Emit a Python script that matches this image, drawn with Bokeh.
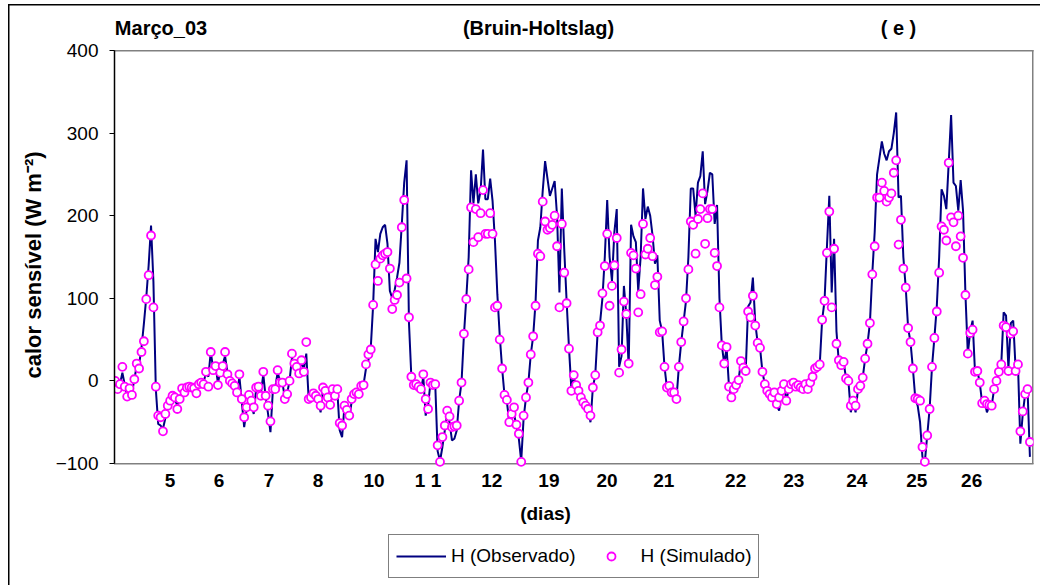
from bokeh.plotting import figure
from bokeh.models import (Range1d, FixedTicker, Label, LabelSet, Legend,
                          LegendItem, Title, ColumnDataSource)
from bokeh.core.properties import value
from bokeh.embed import file_html
from bokeh.resources import INLINE

# Hourly sensible heat flux, March 2003 (hour index along the record)
hora = list(range(384))

h_obs = [
    0, -8, -4, 10, -5, -18, -10, -15, 2, 18, 20, 40,
    69, 101, 140, 188, 120, -10, -52, -54, -58, -45, -32, -26,
    -20, -22, -30, -20, -12, -14, -8, -8, -6, -8, -12, -4,
    0, -2, 10, 5, 35, 15, 20, -3, 12, 20, 30, 10,
    0, -5, -8, -15, 5, -25, -56, -35, -18, -28, -40, -10,
    -8, -15, 8, -20, -40, -62, -12, -8, 10, 0, -2, -20,
    -15, 0, 28, 20, 18, 12, 22, 15, 33, -22, -22, -18,
    -20, -25, -38, -10, -12, -22, -32, -10, -18, -12, -60, -68,
    -30, -38, -45, -25, -15, -14, -12, -6, -4, 15, 25, 40,
    92, 172, 156, 178, 186, 189, 166, 109, 100, 110, 125, 143,
    190, 240, 267, 70, 5, -5, -6, -8, -12, 5, -42, -30,
    -2, -5, -4, -85, -97, -80, -60, -40, -50, -72, -70, -60,
    -24, -2, 55, 100, 150, 255, 215, 250, 215, 230, 280, 220,
    220, 245, 218, 170, 105, 55, 15, -17, -25, -50, -45, -40,
    -55, -70, -97, -45, -20, -2, 32, 54, 95, 170, 186, 230,
    266, 245, 224, 233, 242, 200, 107, 233, 160, 97, 40, -10,
    5, -8, -12, -20, -26, -30, -34, -50, -8, 7, 59, 70,
    100, 150, 219, 150, 121, 180, 208, 17, 30, 115, 80, 17,
    189, 175, 168, 109, 150, 233, 196, 211, 200, 176, 142, 152,
    73, 60, 17, -8, -6, -14, -14, -22, 17, 47, 72, 97,
    150, 233, 233, 200, 240, 248, 278, 214, 230, 252, 250, 190,
    213, 100, 43, 21, 40, -7, -20, -10, -5, 1, 24, 16,
    12, 90, 95, 125, 70, 46, 40, 11, -4, -12, -16, -20,
    -14, -30, -36, -12, -4, -24, -10, -4, -2, -7, -5, -8,
    -10, -4, -10, -2, 5, 15, 17, 20, 74, 97, 162, 224,
    107, 172, 60, 22, 19, 23, 3, 0, -38, -24, -38, -10,
    -6, 4, 27, 45, 70, 130, 180, 250, 270, 290, 275, 267,
    278, 281, 300, 325, 222, 224, 150, 113, 64, 47, 15, -21,
    -30, -50, -92, -98, -66, -34, 17, 52, 90, 150, 232, 224,
    208, 264, 322, 240, 236, 206, 243, 206, 105, 33, 60, 73,
    11, 12, -2, -27, -24, -38, -30, -30, -10, 0, 11, 20,
    83, 79, 15, 70, 73, 15, 20, -76, -40, -16, -10, -92,
]

h_sim = [
    0, -10, -4, 17, -7, -19, -9, -17, 2, 21, 15, 35,
    48, 99, 128, 176, 89, -7, -42, -44, -61, -40, -30, -24,
    -18, -20, -34, -22, -9, -14, -8, -7, -8, -9, -15, -4,
    -2, -4, 11, -7, 35, 13, 18, -5, 10, 18, 35, 8,
    0, -3, -6, -14, 8, -22, -44, -32, -17, -24, -32, -8,
    -7, -18, 11, -18, -30, -49, -10, -10, 13, -2, -2, -22,
    -16, 0, 33, 21, 17, 9, 25, 11, 47, -22, -20, -15,
    -18, -22, -30, -8, -12, -20, -29, -10, -18, -10, -51, -54,
    -30, -35, -42, -22, -16, -14, -16, -6, -5, 20, 32, 38,
    92, 141, 121, 148, 152, 154, 156, 136, 87, 98, 104, 119,
    186, 219, 124, 77, 5, -5, -4, -7, -10, 8, -22, -34,
    -2, -5, -4, -78, -98, -68, -54, -36, -43, -56, -55, -54,
    -24, -2, 57, 99, 135, 210, 168, 208, 174, 203, 231, 178,
    178, 203, 178, 89, 91, 50, 15, -17, -23, -50, -40, -32,
    -53, -64, -98, -42, -20, -2, 32, 54, 91, 154, 151, 217,
    193, 183, 185, 189, 200, 163, 89, 190, 131, 94, 39, -12,
    7, -5, -12, -20, -26, -30, -34, -42, -8, 7, 59, 67,
    106, 139, 178, 91, 115, 140, 173, 10, 38, 96, 81, 21,
    155, 152, 136, 83, 105, 190, 153, 160, 173, 151, 116, 126,
    59, 60, 17, -8, -6, -14, -14, -22, 17, 47, 72, 100,
    135, 193, 189, 154, 196, 208, 227, 166, 197, 208, 208, 155,
    139, 89, 43, 21, 41, -7, -20, -10, -5, 1, 24, 16,
    12, 84, 77, 103, 67, 46, 40, 11, -4, -12, -16, -20,
    -14, -28, -20, -12, -4, -24, -10, -4, -2, -7, -5, -8,
    -10, -4, -10, -2, 5, 15, 17, 20, 74, 97, 155, 205,
    89, 160, 45, 25, 19, 23, 3, 0, -30, -24, -30, -10,
    -6, 4, 27, 45, 70, 129, 163, 222, 222, 240, 230, 217,
    222, 227, 252, 267, 165, 195, 136, 113, 64, 47, 15, -21,
    -22, -24, -80, -98, -66, -34, 17, 52, 84, 131, 187, 183,
    170, 264, 198, 192, 163, 200, 175, 149, 104, 33, 58, 62,
    11, 12, -2, -27, -24, -28, -29, -30, -10, 0, 11, 20,
    67, 65, 12, 57, 60, 12, 20, -61, -37, -16, -10, -74,
]

# day labels printed under the hour axis
dias_hora = [23.0, 43.5, 64.4, 84.9, 108.4, 131.0, 157.7, 181.6, 205.9,
             229.7, 259.8, 284.1, 310.5, 335.6, 358.6]
dias_txt = ["5", "6", "7", "8", "10", "1 1", "12", "19", "20", "21", "22",
            "23", "24", "25", "26"]

y_ticks = [-100, 0, 100, 200, 300, 400]
y_min, y_max = -100, 400

cabecalhos = ["Março_03", "(Bruin-Holtslag)", "( e )"]

FONT = "Liberation Sans"
NAVY = "#000080"
MAGENTA = "#FF00FF"
GRAY = "#808080"

W, H = 1040, 585
BOX_L, BOX_R, BOX_T, BOX_B = 114, 1033, 50, 463   # value box, in pixels
PX = (BOX_B - BOX_T) / (y_max - y_min)            # pixels per W m-2

# Rules painted as the page background behind the transparent canvas:
# black chart border (top/left) and the grey edges of the value box.
fundo = ", ".join([
    "linear-gradient(#000, #000) 8px 4px / 1040px 1.5px no-repeat",
    "linear-gradient(#000, #000) 8px 4px / 1.5px 600px no-repeat",
    f"linear-gradient({GRAY}, {GRAY}) {BOX_L}px {BOX_T - 0.5}px / "
    f"{BOX_R - BOX_L + 0.5}px 1.5px no-repeat",
    f"linear-gradient({GRAY}, {GRAY}) {BOX_L}px {BOX_B - 0.5}px / "
    f"{BOX_R - BOX_L + 0.5}px 1.5px no-repeat",
    f"linear-gradient({GRAY}, {GRAY}) {BOX_R - 1}px {BOX_T - 0.5}px / "
    f"1.5px {BOX_B - BOX_T + 1}px no-repeat",
    "#fff",
])

# The frame spans the full canvas height so headings, day labels and legend
# all sit inside it; the value axis itself is bounded to -100..400.
p = figure(width=W, height=H, output_backend="svg", toolbar_location=None,
           x_range=Range1d(-0.3, 384.5),
           y_range=Range1d(y_min - (H - BOX_B) / PX, y_max + BOX_T / PX),
           min_border_left=BOX_L, min_border_right=W - BOX_R,
           min_border_top=0, min_border_bottom=0,
           styles={"background": fundo})
p.background_fill_alpha = 0
p.border_fill_alpha = 0
p.outline_line_color = None
p.xgrid.visible = False
p.ygrid.visible = False
p.xaxis.visible = False

# y axis
ya = p.yaxis[0]
ya.ticker = FixedTicker(ticks=y_ticks)
ya.bounds = (y_min, y_max)
ya.axis_line_color = "black"
ya.axis_line_width = 1.5
ya.major_tick_line_color = "black"
ya.major_tick_out = 5
ya.major_tick_in = 0
ya.minor_tick_line_color = None
ya.major_label_text_font = FONT
ya.major_label_text_font_size = "19px"
ya.major_label_text_color = "black"
ya.major_label_standoff = 11

# y axis title, set along the value range
p.add_layout(Title(text="calor sensível (W m⁻²)", align="left",
                   offset=H - 378, standoff=14, text_font=FONT,
                   text_font_size="22px", text_font_style="bold",
                   text_color="black"), "left")

r_obs = p.line(hora, h_obs, line_color=NAVY, line_width=2)
r_sim = p.scatter(hora, h_sim, marker="circle", size=8, line_color=MAGENTA,
                  line_width=1.8, fill_color="white")

# day labels under the value box (y offsets in pixels from the canvas bottom)
p.add_layout(LabelSet(x="x", y=H - 480, text="text", y_units="screen",
                      source=ColumnDataSource(dict(x=dias_hora, text=dias_txt)),
                      text_font=value(FONT), text_font_size=value("19px"),
                      text_font_style="bold", text_align="center",
                      text_baseline="middle", text_color="black"))
p.add_layout(Label(x=545 - BOX_L, y=H - 513, x_units="screen", y_units="screen",
                   text="(dias)", text_font=FONT, text_font_size="19px",
                   text_font_style="bold", text_align="center",
                   text_baseline="middle", text_color="black"))

# headings
for txt, xc in zip(cabecalhos, [160.5, 538, 898]):
    p.add_layout(Label(x=xc - BOX_L, y=H - 27, x_units="screen",
                       y_units="screen", text=txt, text_font=FONT,
                       text_font_size="20px", text_font_style="bold",
                       text_align="center", text_baseline="middle",
                       text_color="black"))

legend = Legend(items=[LegendItem(label="H (Observado)", renderers=[r_obs]),
                       LegendItem(label="H (Simulado)", renderers=[r_sim])],
                location=(388 - BOX_L, 7), orientation="horizontal",
                border_line_color="black", border_line_width=1,
                label_text_font=FONT, label_text_font_size="19px",
                label_text_color="black", glyph_width=50, glyph_height=20,
                label_height=28, label_standoff=5, spacing=10, padding=7,
                margin=0, background_fill_color="white",
                background_fill_alpha=1)
p.add_layout(legend)

open("out.html", "w").write(file_html(p, INLINE))
